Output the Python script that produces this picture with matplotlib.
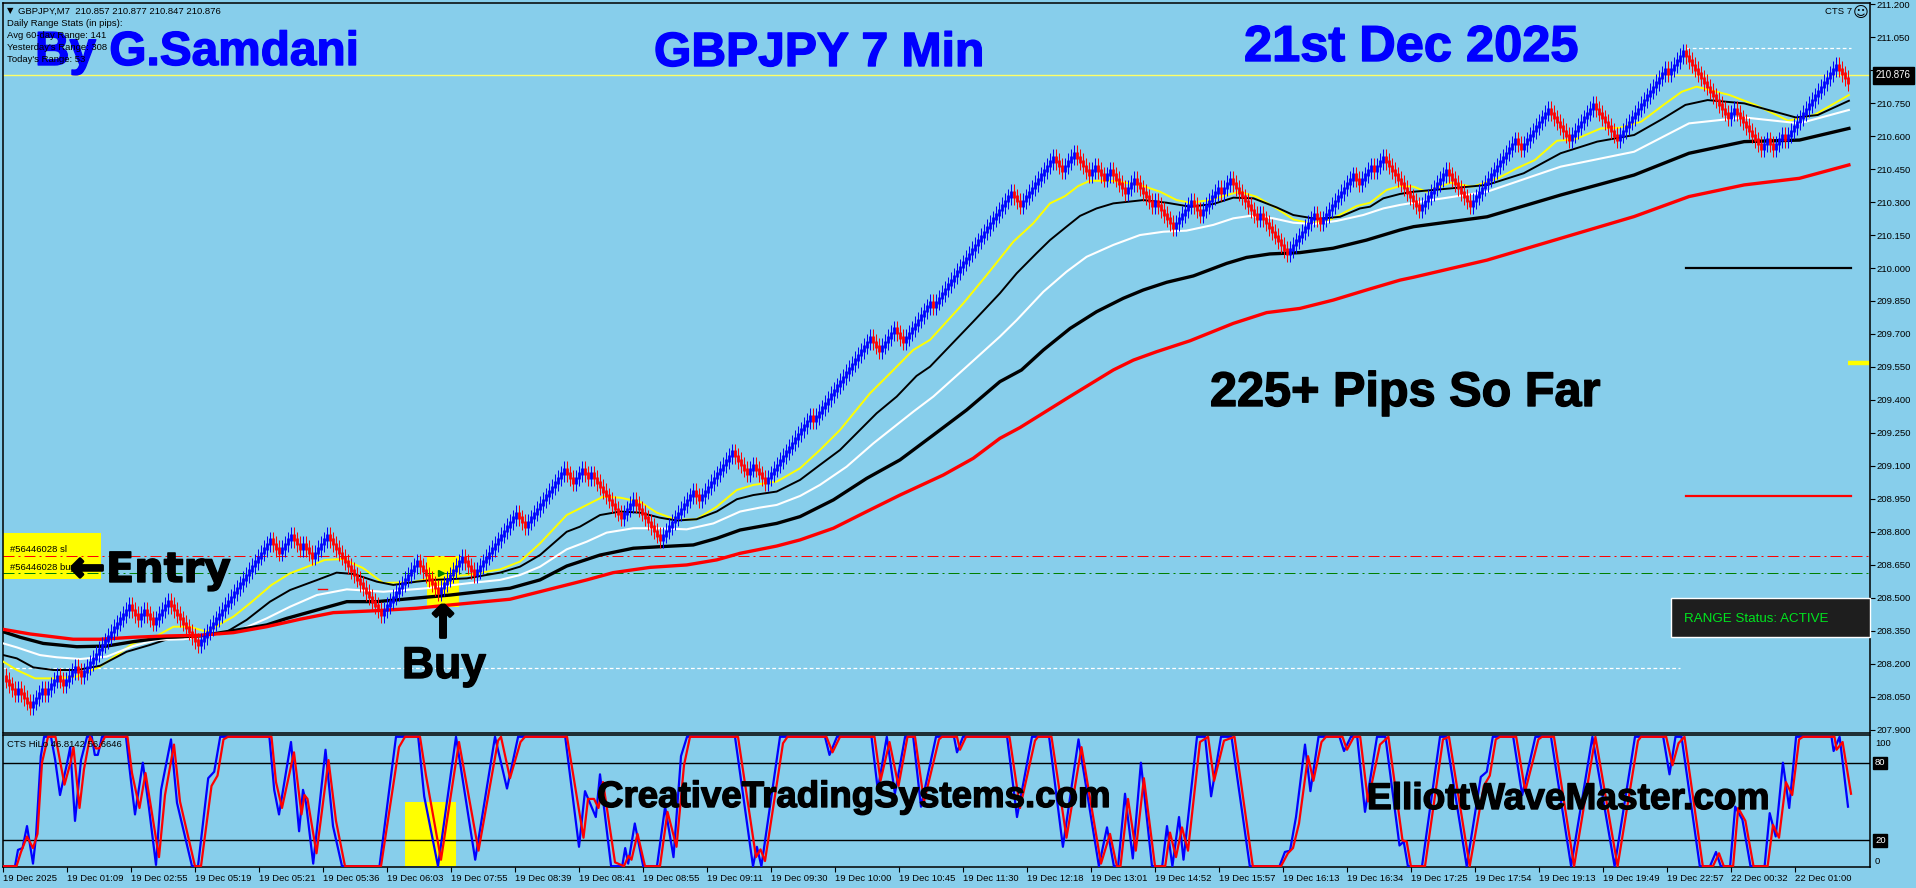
#!/usr/bin/env python
"""GBPJPY 7 min renko chart with moving averages and the CTS HiLo panel."""

import matplotlib

matplotlib.use("Agg")
import matplotlib.pyplot as plt
import matplotlib.patheffects as pe
from matplotlib.collections import LineCollection
from matplotlib.patches import Rectangle

W, H = 1916, 888
SKY = "#87CEEB"
BLUE = "#0000FF"

# renko legs, signed brick counts, one bar per brick
brick_size = 0.02
first_close = 208.144
renko_legs = [
    -4, 1, -4, 4, -1, 4, -2, 4, -2, 16, -3, 2, -3, 5, -10, 24, -3, 4, -3, 1, -3, 5,
    -18, 12, -7, 8, -4, 14, -3, 13, -3, 3, -2, 1, -10, 4, -9, 11, -2, 11, -5, 2, -4,
    15, -1, 19, -3, 5, -3, 9, -1, 26, -3, 11, -3, 4, -5, 2, -3, 2, -5, 3, -6, 1, -6,
    6, -3, 6, -1, 3, -9, 1, -9, 9, -2, 11, -2, 4, -1, 3, -12, 9, -8, 15, -2, 9, -7,
    8, -8, 16, -1, 5, -15, 2, -9, 2, -2, 3, -1, 17, -4,
]

yellow_bars = [0.1, 4.6, 10.7, 16.8, 24.6, 32.3, 37.9, 43.4, 51.2, 56.8, 62.3, 67.9, 76.8, 82.3,
               89.5, 95.7, 107.3, 113.3, 120, 126.7, 136.7, 143.3, 154.7, 165.7, 172.3, 179,
               187.9, 194.6, 200.1, 205.7, 212.3, 217.9, 224.6, 231.2, 237.9, 244.6, 250.1,
               257.9, 265.7, 272.3, 279, 289, 295.7, 303.4, 309, 320.1, 327.9, 336.8, 343.4,
               349, 354, 358.4, 362.3, 370.1, 379, 385.7, 391.2, 395.7, 402.3, 407.9, 412.3,
               417.9, 424.5, 430.1, 435.7, 442.3, 451.2, 455.7, 461.2, 465.7, 470.2, 474.5,
               482.4, 489.8, 498.3, 504.5, 510.6, 518, 524, 532.6, 538.8, 546.1, 553.5, 559.6,
               564.5, 575.5, 584.1, 595.1, 603.7, 615.3]
yellow_ma = [208.209, 208.171, 208.133, 208.133, 208.141, 208.186, 208.239, 208.292, 208.326,
             208.368, 208.368, 208.345, 208.414, 208.474, 208.558, 208.611, 208.672, 208.676,
             208.635, 208.567, 208.571, 208.59, 208.603, 208.629, 208.664, 208.747, 208.876,
             208.922, 208.96, 208.955, 208.937, 208.887, 208.854, 208.857, 208.914, 208.99,
             209.013, 209.028, 209.089, 209.172, 209.263, 209.43, 209.521, 209.627, 209.673,
             209.839, 209.968, 210.12, 210.203, 210.294, 210.327, 210.373, 210.397, 210.396,
             210.378, 210.347, 210.309, 210.297, 210.309, 210.332, 210.347, 210.324, 210.271,
             210.221, 210.203, 210.218, 210.282, 210.297, 210.355, 210.373, 210.37, 210.347,
             210.388, 210.37, 210.408, 210.453, 210.491, 210.579, 210.585, 210.635, 210.638,
             210.666, 210.742, 210.802, 210.825, 210.787, 210.742, 210.67, 210.696, 210.787]

black_thin_bars = [0.1, 4.6, 10.1, 16.8, 24.6, 32.3, 41.2, 49, 55.7, 65.7, 74.6, 81.2, 89, 95.7,
                   104.6, 111.2, 116.8, 124.6, 130.1, 137.9, 143.4, 154.6, 165.7, 172.3, 179,
                   187.9, 192.3, 199, 205.7, 212.3, 219, 224.6, 231.2, 237.9, 244.6, 250.1,
                   257.9, 265.7, 272.3, 279, 291.2, 297.9, 304.5, 309, 323.4, 332.3, 337.9,
                   344.5, 349, 354.5, 359, 364.5, 370.1, 380.1, 387.9, 395.7, 403.4, 410.1,
                   416.8, 424.5, 430.1, 437.9, 445.7, 452.3, 455.7, 460.1, 465.7, 470.2, 482.4,
                   494.7, 506.9, 519.2, 531.4, 543.7, 553.5, 560.8, 568.2, 580.4, 597.6, 604.9,
                   615.3]
black_thin_ma = [208.239, 208.224, 208.183, 208.171, 208.171, 208.19, 208.254, 208.285, 208.315,
                 208.323, 208.345, 208.399, 208.482, 208.535, 208.58, 208.614, 208.608, 208.573,
                 208.558, 208.573, 208.581, 208.588, 208.614, 208.641, 208.694, 208.8, 208.823,
                 208.876, 208.892, 208.887, 208.864, 208.851, 208.857, 208.892, 208.948, 208.967,
                 208.983, 209.036, 209.104, 209.172, 209.339, 209.415, 209.509, 209.551, 209.756,
                 209.885, 209.976, 210.067, 210.127, 210.188, 210.237, 210.271, 210.294, 210.309,
                 210.297, 210.279, 210.291, 210.32, 210.317, 210.276, 210.241, 210.223, 210.233,
                 210.271, 210.279, 210.317, 210.337, 210.347, 210.362, 210.378, 210.431, 210.522,
                 210.575, 210.605, 210.681, 210.742, 210.764, 210.749, 210.685, 210.696, 210.761]

white_bars = [0.1, 4.6, 12.3, 17.9, 25.7, 34.6, 43.4, 51.2, 60.1, 70.1, 79, 87.9, 95.7, 104.6,
              114.6, 126.8, 141.2, 154.6, 165.7, 172.3, 179, 187.9, 194.6, 201.2, 210.1, 219,
              227.9, 236.8, 245.7, 252.3, 257.9, 265.7, 272.3, 281.2, 290.1, 303.4, 310.1,
              321.2, 332.3, 337.9, 346.8, 354.5, 361.2, 370.1, 379, 386.8, 394.5, 403.4, 410.1,
              415.7, 423.4, 430.1, 436.8, 444.5, 453.4, 460.1, 465.7, 470.2, 494.7, 519.2,
              543.7, 562, 580.4, 598.8, 615.3]
white_ma = [208.292, 208.274, 208.239, 208.229, 208.221, 208.232, 208.28, 208.308, 208.311,
            208.33, 208.353, 208.406, 208.459, 208.512, 208.538, 208.527, 208.543, 208.565,
            208.581, 208.603, 208.641, 208.72, 208.755, 208.796, 208.816, 208.816, 208.811,
            208.838, 208.892, 208.91, 208.922, 208.963, 209.013, 209.096, 209.202, 209.346,
            209.415, 209.551, 209.688, 209.763, 209.892, 209.983, 210.051, 210.105, 210.15,
            210.165, 210.17, 210.196, 210.226, 210.237, 210.226, 210.206, 210.2, 210.214,
            210.241, 210.271, 210.287, 210.297, 210.347, 210.461, 210.529, 210.658, 210.685,
            210.658, 210.719]

black_thick_bars = [0.1, 5.7, 13.4, 24.6, 34.6, 43.4, 54.6, 65.7, 76.8, 87.9, 94.6, 104.6, 114.6,
                    124.6, 136.8, 149, 169, 179, 187.9, 199, 210.1, 219, 230.1, 237.9, 245.7,
                    257.9, 265.7, 276.8, 287.9, 299, 310.1, 321.2, 332.3, 339.5, 346.8, 355.7,
                    364.5, 373.4, 380.1, 387.9, 396.8, 407.9, 414.5, 422.3, 432.3, 443.4, 454.5,
                    465.7, 470.2, 494.7, 519.2, 543.7, 562, 580.4, 598.8, 615.3]
black_thick_ma = [208.345, 208.32, 208.292, 208.277, 208.28, 208.3, 208.32, 208.326, 208.35,
                  208.376, 208.406, 208.444, 208.482, 208.482, 208.497, 208.512, 208.543, 208.581,
                  208.644, 208.694, 208.725, 208.732, 208.74, 208.77, 208.808, 208.838, 208.869,
                  208.945, 209.043, 209.127, 209.24, 209.354, 209.483, 209.536, 209.627, 209.725,
                  209.801, 209.862, 209.9, 209.935, 209.964, 210.021, 210.048, 210.064, 210.07,
                  210.09, 210.127, 210.173, 210.188, 210.233, 210.332, 210.423, 210.522, 210.575,
                  210.582, 210.635]

red_bars = [0.1, 9, 23.4, 32.3, 43.4, 54.6, 65.7, 76.8, 87.9, 99, 110.1, 124.6, 137.9, 149, 169,
            194.6, 203.4, 215.7, 227.9, 237.9, 245.7, 257.9, 265.7, 276.8, 287.9, 299, 313.4,
            323.4, 332.3, 339, 355, 370.1, 376.8, 384.5, 395.7, 410.1, 421.2, 432.3, 443.4,
            454.5, 465.7, 470.2, 494.7, 519.2, 543.7, 562, 580.4, 598.8, 615.3]
red_ma = [208.356, 208.335, 208.311, 208.311, 208.32, 208.326, 208.329, 208.341, 208.368, 208.402,
          208.432, 208.441, 208.452, 208.467, 208.493, 208.581, 208.614, 208.638, 208.649, 208.672,
          208.702, 208.735, 208.763, 208.816, 208.892, 208.967, 209.058, 209.134, 209.225, 209.274,
          209.41, 209.536, 209.581, 209.619, 209.669, 209.748, 209.797, 209.816, 209.854, 209.9,
          209.945, 209.958, 210.036, 210.135, 210.234, 210.325, 210.378, 210.408, 210.469]

hilo_blue_bars = [
    0, 4, 5, 6.5, 8, 10, 11, 12.6, 13.7, 16, 17.4, 19, 21.4, 22.4, 24, 26, 28, 29.6, 30.6,
    31.6, 33, 41, 42.5, 44, 46.6, 48.6, 51, 52.7, 56, 58, 63, 65, 68.4, 70.4, 72.4, 88.8,
    90.4, 92, 96, 98.7, 100, 101, 103.4, 107.5, 110, 113, 125.5, 131, 138.4, 140.4, 145,
    151, 157.4, 164, 168, 171.7, 187.4, 192, 194, 197.6, 199, 202.7, 206.4, 207.4, 208.4,
    210.6, 213.4, 218, 220.7, 223.5, 226, 228, 244, 250, 251.3, 252.8, 259, 274, 275.5,
    278, 289.5, 291.6, 294.6, 297.3, 300.7, 303.4, 306, 311, 317, 318, 320, 334.7, 338,
    343, 348.7, 353.3, 358.5, 365.3, 368, 370.3, 371.7, 374, 376.6, 379.3, 383, 386.4,
    388, 389.8, 392, 393.5, 398, 400.7, 402.7, 406, 409.5, 415.6, 425.5, 427.3, 429, 431,
    434, 435.8, 438.5, 445.5, 447, 449.3, 451.4, 454, 458, 460.8, 465.5, 466.9, 468.3,
    473, 479, 481, 487.9, 492.6, 494.6, 496.6, 503.4, 506.4, 510.8, 516, 522.7, 529.8,
    537.2, 544, 553.4, 555.5, 557.5, 559.5, 565.6, 569, 571, 572.6, 575.7, 577.4, 579.8,
    582.5, 587.2, 588.9, 590.9, 593.3, 595.4, 597.7, 609.5, 610.2, 612.2, 615,
]
hilo_blue = [
    0, 0, 12.6, 14, 31, 2, 23, 85, 100, 100, 82, 55, 80, 92, 35, 82, 100, 100, 86,
    86, 100, 100, 69, 40, 80, 46, 1, 59, 98, 49, 0, 0, 68, 73, 100, 100,
    59, 40, 96, 27, 59, 49, 2, 90, 31, 0, 0, 100, 100, 54, 0,
    100, 5, 100, 60, 100, 100, 15, 58, 38, 71, 0, 0, 14, 2,
    33, 0, 0, 46, 7, 85, 100, 100, 0, 15, 0, 100, 100, 86,
    100, 100, 59, 100, 56, 100, 100, 46, 100, 100, 88, 100, 100, 38,
    100, 100, 15, 98, 0, 30, 0, 0, 56, 6, 80, 0, 0,
    31, 0, 38, 5, 100, 100, 54, 100, 100, 0, 0, 11, 12, 38,
    94, 58, 100, 100, 89, 100, 100, 42, 100, 100, 16, 19, 0,
    0, 100, 100, 0, 69, 73, 100, 100, 55, 100, 100, 0, 100,
    0, 100, 100, 71, 100, 100, 0, 0, 11, 0, 0, 46, 36,
    0, 0, 41, 23, 80, 45, 100, 100, 89, 100, 46,
]
hilo_red_bars = [
    0, 4.5, 6, 8, 10, 11.5, 13, 15, 17.5, 20.5, 22.5, 23.5, 25.5, 27, 29, 31, 32, 34, 41.5,
    43, 45.5, 47.5, 52, 54, 57, 59, 64, 66, 69.5, 71.5, 73.5, 75, 89.5, 91, 93, 97, 99.5,
    100.5, 101.5, 104.5, 108.5, 111, 114, 126, 132, 134, 139, 141, 146, 152, 158.5, 165,
    166, 169, 172.5, 174, 188, 193.5, 195, 197, 198.5, 200, 204, 207, 208.5, 209.5, 211.5,
    214, 219, 221.5, 224.5, 227, 229, 245, 251, 252.5, 254, 260, 261.5, 274.5, 276.5, 279,
    290.5, 292.5, 295.5, 298.5, 301.5, 304, 307, 312, 313, 318, 319, 321, 335.5, 339, 344,
    345, 349.5, 354.5, 359.5, 366, 369, 371.3, 372.5, 375, 377.6, 380.3, 384, 387.4, 389,
    391, 393, 395, 399, 401.7, 403.7, 407, 410.5, 416.6, 426, 428.3, 430, 432, 435, 436.8,
    439.5, 441, 446.5, 448, 450.3, 452.4, 455, 459, 461.8, 466.5, 467.9, 469.3, 474, 480,
    482, 488.9, 493.6, 495.6, 497.6, 499, 504.4, 507.4, 511.8, 513, 517, 523.7, 530.8,
    538.2, 545, 546, 554.4, 556.5, 558.5, 560.5, 566.6, 570, 572, 573.6, 576.7, 578.4,
    580.8, 583.5, 588.2, 590, 592, 594.3, 596.4, 598.7, 600, 610.5, 611.2, 613.2, 616,
]
hilo_red = [
    0, 0, 11, 23, 14, 25, 80, 100, 100, 63, 80, 92, 45, 75, 100, 91, 91, 100, 100,
    72, 45, 72, 7, 55, 94, 50, 0, 0, 62, 70, 98, 100, 100, 65, 45, 88, 40,
    55, 52, 10, 82, 35, 0, 0, 92, 100, 100, 70, 5, 96, 12, 97,
    100, 68, 96, 100, 100, 22, 52, 52, 45, 65, 3, 0, 8, 5, 25,
    0, 0, 42, 15, 78, 100, 100, 7, 13, 4, 95, 100, 100, 88, 100,
    100, 66, 96, 62, 100, 100, 50, 98, 100, 100, 90, 100, 100, 45, 97,
    100, 100, 22, 92, 2, 25, 0, 0, 52, 12, 68, 0, 0, 26,
    7, 30, 12, 96, 100, 66, 97, 100, 0, 0, 10, 14, 33, 85, 66,
    96, 100, 100, 90, 100, 100, 50, 94, 100, 20, 19, 0, 0, 98,
    100, 0, 62, 70, 98, 100, 100, 58, 98, 100, 100, 0, 100,
    0, 97, 100, 100, 78, 95, 100, 0, 0, 10, 0, 0, 45,
    35, 0, 0, 32, 22, 65, 55, 98, 100, 100, 90, 96, 56,
]

price_ticks = [211.2, 211.05, 210.9, 210.75, 210.6, 210.45, 210.3, 210.15, 210.0, 209.85,
               209.7, 209.55, 209.4, 209.25, 209.1, 208.95, 208.8, 208.65, 208.5, 208.35,
               208.2, 208.05, 207.9]
time_labels = ["19 Dec 2025", "19 Dec 01:09", "19 Dec 02:55", "19 Dec 05:19", "19 Dec 05:21",
               "19 Dec 05:36", "19 Dec 06:03", "19 Dec 07:55", "19 Dec 08:39", "19 Dec 08:41",
               "19 Dec 08:55", "19 Dec 09:11", "19 Dec 09:30", "19 Dec 10:00", "19 Dec 10:45",
               "19 Dec 11:30", "19 Dec 12:18", "19 Dec 13:01", "19 Dec 14:52", "19 Dec 15:57",
               "19 Dec 16:13", "19 Dec 16:34", "19 Dec 17:25", "19 Dec 17:54", "19 Dec 19:13",
               "19 Dec 19:49", "19 Dec 22:57", "22 Dec 00:32", "22 Dec 01:00"]
last_price = 210.876
sl_price = 208.691
entry_price = 208.612
high_level = 211.0
low_level = 208.18
range_mid = 210.0
range_low = 208.963
range_stub = 209.568

# layout, in pixels of the 1916x888 picture
LEFT, RIGHT = 3, 1870
MAIN_TOP, MAIN_BOTTOM = 3, 733
SUB_TOP, SUB_BOTTOM = 735, 867
BAR_PX = 3.0
PX_PER_PRICE = 219.8
PX_PER_HILO = 1.294
WICK = 0.037
BODY_EXTRA = 0.006
SMALL = 6.8


def axes_px(fig, left, top, right, bottom):
    return fig.add_axes([left / W, 1 - bottom / H, (right - left) / W, (bottom - top) / H])


def label(fig, x, y, s, **kw):
    kw.setdefault("va", "baseline")
    kw.setdefault("ha", "left")
    return fig.text(x / W, 1 - y / H, s, **kw)


def draw_bars(ax):
    close = first_close
    bar = 0
    up_w, up_b, dn_w, dn_b = [], [], [], []
    for leg in renko_legs:
        step = brick_size if leg > 0 else -brick_size
        for _ in range(abs(leg)):
            bar += 1
            prev = close
            close = close + step
            lo, hi = min(prev, close), max(prev, close)
            wick = [(bar, lo - WICK), (bar, hi + WICK)]
            body = [(bar, lo - BODY_EXTRA), (bar, hi + BODY_EXTRA)]
            if leg > 0:
                up_w.append(wick)
                up_b.append(body)
            else:
                dn_w.append(wick)
                dn_b.append(body)
    for segs, col, lw in [(up_w, BLUE, 0.72), (dn_w, "red", 0.72), (up_b, BLUE, 2.0), (dn_b, "red", 2.0)]:
        ax.add_collection(LineCollection(segs, colors=col, linewidths=lw, capstyle="butt", zorder=5))


def main():
    plt.rcParams["font.family"] = ["Liberation Sans", "DejaVu Sans"]
    fig = plt.figure(figsize=(W / 100, H / 100), dpi=100, facecolor=SKY)

    ax = axes_px(fig, LEFT, MAIN_TOP, RIGHT, MAIN_BOTTOM)
    sub = axes_px(fig, LEFT, SUB_TOP, RIGHT, SUB_BOTTOM)
    xmax = (RIGHT - LEFT) / BAR_PX
    for a in (ax, sub):
        a.set_facecolor(SKY)
        a.set_xlim(0, xmax)
        a.yaxis.tick_right()
        for s in a.spines.values():
            s.set_linewidth(1.1)
        a.tick_params(axis="y", length=3.6, width=0.8, labelsize=SMALL, pad=1)

    ax.set_ylim(210 - (MAIN_BOTTOM - 268) / PX_PER_PRICE, 210 + (268 - MAIN_TOP) / PX_PER_PRICE)
    ax.set_xticks([])
    ax.set_yticks(price_ticks)
    ax.set_yticklabels([f"{p:.3f}" for p in price_ticks])

    # yellow highlight boxes behind the lines
    def price_of(y):
        return 210 - (y - 268) / PX_PER_PRICE

    ax.add_patch(Rectangle((0, price_of(579)), 98 / BAR_PX, price_of(533) - price_of(579), color="yellow", lw=0, zorder=1))
    ax.add_patch(Rectangle((141.3, price_of(607)), 32 / BAR_PX, price_of(556) - price_of(607), color="yellow", lw=0, zorder=1))

    # level lines
    ax.axhline(last_price, color="#FFFF66", lw=1.0, zorder=2)
    ax.axhline(sl_price, color="red", lw=0.72, dashes=(11, 4, 2, 4), zorder=2)
    ax.axhline(entry_price, color="#008000", lw=0.72, dashes=(11, 4, 2, 4), zorder=2)
    ax.plot([561, 616], [high_level, high_level], color="white", lw=0.9, ls=(0, (3, 2)), zorder=2)
    ax.plot([0, 559], [low_level, low_level], color="white", lw=0.9, ls=(0, (3, 2)), zorder=2)
    ax.plot([561, 616], [range_mid, range_mid], color="black", lw=1.6, zorder=2)
    ax.plot([561, 616], [range_low, range_low], color="red", lw=1.6, zorder=2)
    ax.plot([615, xmax], [range_stub, range_stub], color="yellow", lw=3.2, solid_capstyle="butt", zorder=2)
    ax.plot([105, 108], [208.54, 208.54], color="red", lw=1, zorder=2)

    # moving averages
    ax.plot(yellow_bars, yellow_ma, color="yellow", lw=1.4, zorder=3)
    ax.plot(black_thin_bars, black_thin_ma, color="black", lw=1.4, zorder=3)
    ax.plot(white_bars, white_ma, color="white", lw=1.5, zorder=3)
    ax.plot(black_thick_bars, black_thick_ma, color="black", lw=2.4, zorder=3)
    ax.plot(red_bars, red_ma, color="red", lw=2.4, zorder=3)

    draw_bars(ax)
    ax.plot([146], [entry_price], marker=">", color="#008000", ms=5, zorder=6)

    # last price tag
    ax.text(1.0 + 6 / (RIGHT - LEFT), last_price, "210.876", transform=ax.get_yaxis_transform(), color="white",
            fontsize=SMALL + 0.2, va="center", ha="left", clip_on=False, zorder=10,
            bbox=dict(facecolor="black", edgecolor="black", pad=2.4))

    # HiLo panel
    sub.set_ylim((866.2 - SUB_BOTTOM) / PX_PER_HILO, (866.2 - SUB_TOP) / PX_PER_HILO)
    sub.add_patch(Rectangle((134, 0), 51 / BAR_PX, 50, color="yellow", lw=0, zorder=1))
    sub.axhline(80, color="black", lw=1.0, zorder=2)
    sub.axhline(20, color="black", lw=1.0, zorder=2)
    sub.plot(hilo_blue_bars, hilo_blue, color=BLUE, lw=1.6, zorder=3)
    sub.plot(hilo_red_bars, hilo_red, color="red", lw=1.6, zorder=4)
    sub.set_yticks([])
    tick_bars = [k * 64 / BAR_PX for k in range(len(time_labels))]
    sub.set_xticks(tick_bars)
    sub.set_xticklabels(time_labels, fontsize=SMALL, ha="left")
    sub.tick_params(axis="x", length=3.6, width=0.8, pad=1.5)
    label(fig, 1875, 743, "100", fontsize=SMALL, va="center", color="black")
    label(fig, 1875, 861, "0", fontsize=SMALL, va="center", color="black")
    for val, y in [("80", 762.7), ("20", 840.3)]:
        label(fig, 1875, y, val, fontsize=SMALL, va="center", color="white",
              bbox=dict(facecolor="black", edgecolor="black", pad=1.2))

    # range status box
    fig.add_artist(Rectangle((1671 / W, 1 - 637 / H), 199 / W, 39 / H, transform=fig.transFigure,
                             facecolor="#1E1E1E", edgecolor="white", lw=1, zorder=8))
    label(fig, 1684, 619, "RANGE Status: ACTIVE", color="#00E61E", fontsize=9.6, va="center", zorder=9)

    # small chart texts
    label(fig, 7, 11, "▼", fontsize=6, va="center", color="black", family="DejaVu Sans", zorder=13)
    label(fig, 18, 11, "GBPJPY,M7  210.857 210.877 210.847 210.876", fontsize=SMALL, va="center", zorder=13)
    for y, s in [(24, "Daily Range Stats (in pips):"), (36, "Avg 60-day Range: 141"),
                 (48, "Yesterday's Range: 308"), (60, "Today's Range: 53")]:
        label(fig, 7, y, s, fontsize=SMALL, va="center", zorder=13)
    label(fig, 1825, 12, "CTS 7", fontsize=SMALL, va="center", zorder=13)
    label(fig, 1853, 13, "☺", fontsize=11, va="center", family="DejaVu Sans", zorder=13)
    label(fig, 7, 744, "CTS HiLo 46.8142 56.6646", fontsize=SMALL, va="center", zorder=13)
    label(fig, 10, 549, "#56446028 sl", fontsize=SMALL, va="center", zorder=7)
    label(fig, 10, 567, "#56446028 buy", fontsize=SMALL, va="center", zorder=7)

    # big headline texts
    heavy = [pe.withStroke(linewidth=1.0, foreground="black")]
    heavy_blue = [pe.withStroke(linewidth=1.0, foreground=BLUE)]
    bold = dict(family="Liberation Sans", weight="bold", zorder=12)
    label(fig, 35, 65, "By G.Samdani", color=BLUE, fontsize=34.4, path_effects=heavy_blue, **bold)
    label(fig, 654, 66, "GBPJPY 7 Min", color=BLUE, fontsize=34.6, path_effects=heavy_blue, **bold)
    label(fig, 1244, 61, "21st Dec 2025", color=BLUE, fontsize=36.4, path_effects=heavy_blue, **bold)
    label(fig, 1210, 406, "225+ Pips So Far", color="black", fontsize=35, path_effects=heavy, **bold)
    label(fig, 402, 678, "Buy", color="black", fontsize=32, path_effects=heavy, **bold)
    label(fig, 597, 807, "CreativeTradingSystems.com", color="black", fontsize=26.4, path_effects=heavy, **bold)
    label(fig, 1367, 809, "ElliottWaveMaster.com", color="black", fontsize=26.7, path_effects=heavy, **bold)
    label(fig, 106, 582, "Entry", color="black", fontsize=29.8, family="DejaVu Sans", weight="bold", path_effects=heavy, zorder=12)
    label(fig, 70, 581, "←", color="black", fontsize=30, family="DejaVu Sans", weight="bold",
          path_effects=[pe.withStroke(linewidth=2.0, foreground="black")], zorder=12)
    label(fig, 443, 625, "↑", color="black", fontsize=32, family="DejaVu Sans", weight="bold", ha="center", va="center",
          path_effects=[pe.withStroke(linewidth=2.0, foreground="black")], zorder=12)

    fig.savefig("out.png", dpi=100, facecolor=SKY)


if __name__ == "__main__":
    main()
